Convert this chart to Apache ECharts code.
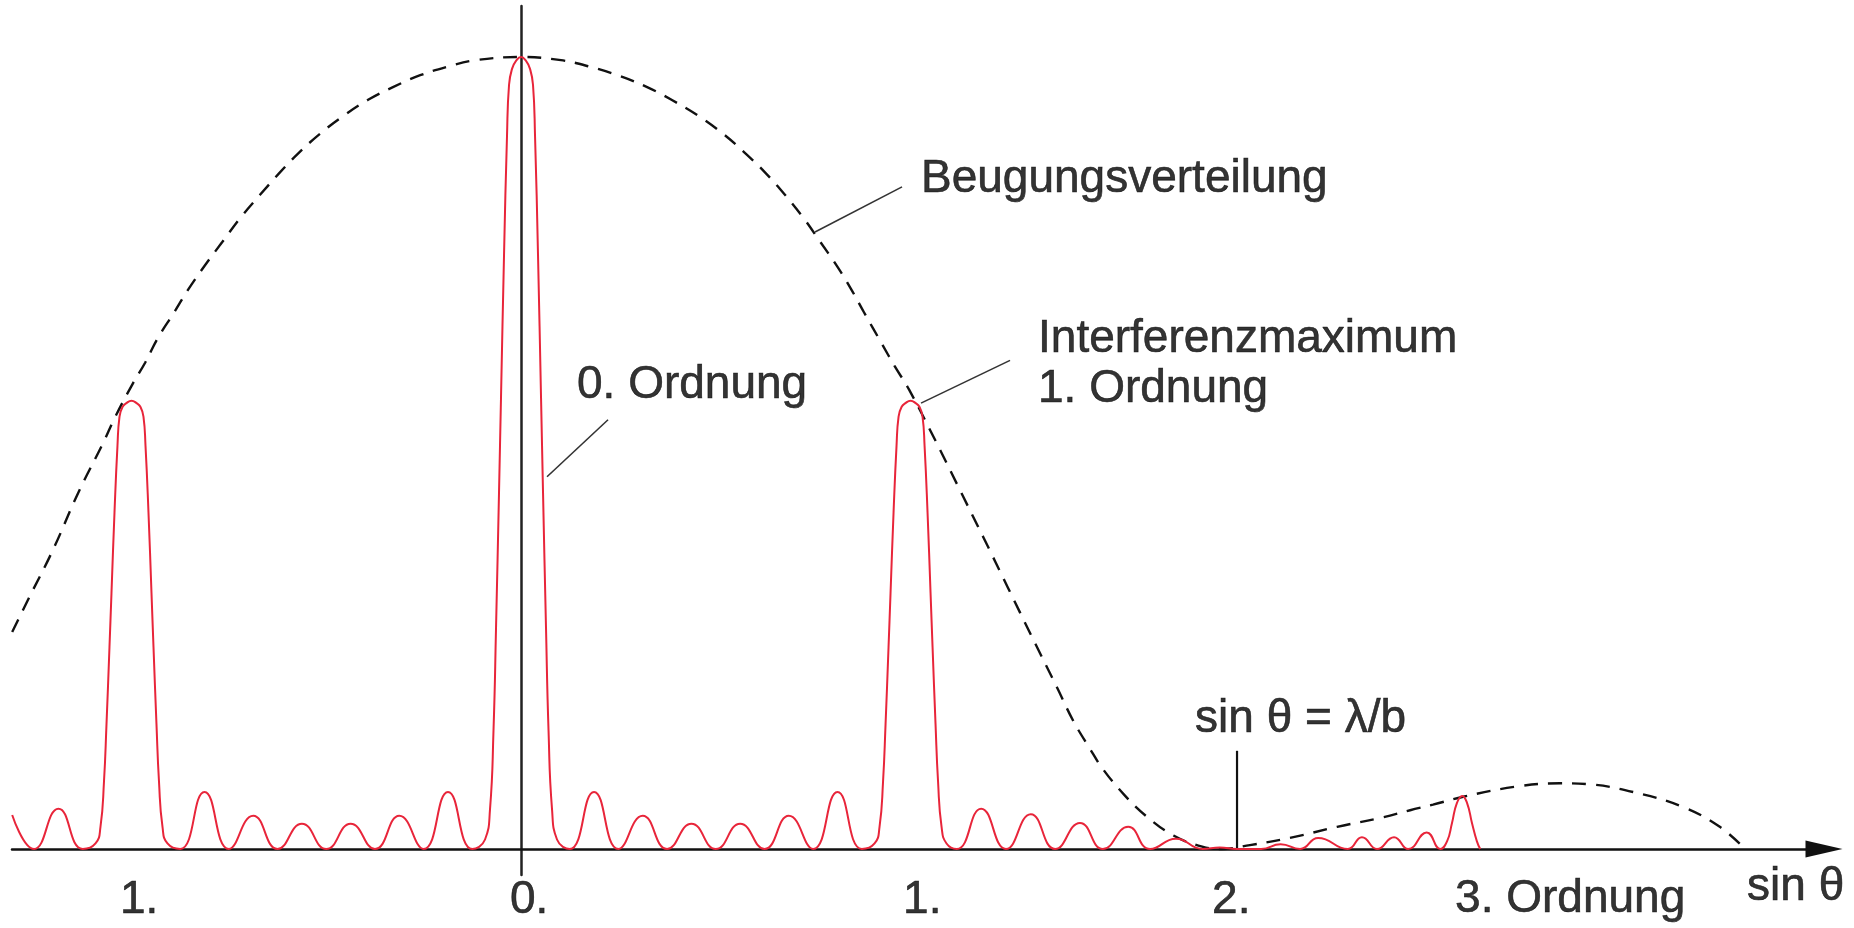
<!DOCTYPE html>
<html>
<head>
<meta charset="utf-8">
<script src="https://cdn.jsdelivr.net/npm/echarts@6/dist/echarts.min.js"></script>
<style>
html,body{margin:0;padding:0;background:#ffffff;}
#chart{width:1854px;height:928px;}
</style>
</head>
<body>
<div id="chart"></div>
<script>
// x: sin(theta) in units of lambda/(8 g)  (8 slits: principal maxima at 0, ±8, ...)
// y: intensity relative to the 0th-order maximum

// grating intensity (red curve)
const gratingCurve = [
  [-10.45,0.043],[-10.0,0],[-9.5,0.051],[-9.0,0],
  [-8.739,0.007],[-8.637,0.028],[-8.565,0.085],[-8.513,0.158],[-8.452,0.255],[-8.411,0.323],[-8.349,0.425],[-8.288,0.509],[-8.246,0.546],[-8.185,0.558],[-8.103,0.563],
  [-8.0,0.566],
  [-7.897,0.563],[-7.815,0.558],[-7.754,0.546],[-7.712,0.509],[-7.651,0.425],[-7.589,0.323],[-7.548,0.255],[-7.487,0.158],[-7.435,0.085],[-7.363,0.028],[-7.261,0.007],
  [-7.0,0],[-6.5,0.072],[-6.0,0],[-5.5,0.042],[-5.0,0],[-4.5,0.032],[-4.0,0],[-3.5,0.032],[-3.0,0],[-2.5,0.042],[-2.0,0],[-1.5,0.072],[-1.0,0],
  [-0.739,0.012],[-0.637,0.05],[-0.565,0.15],[-0.513,0.28],[-0.452,0.45],[-0.411,0.57],[-0.349,0.75],[-0.288,0.90],[-0.246,0.965],[-0.185,0.985],[-0.103,0.995],
  [0,1.0],
  [0.103,0.995],[0.185,0.985],[0.246,0.965],[0.288,0.90],[0.349,0.75],[0.411,0.57],[0.452,0.45],[0.513,0.28],[0.565,0.15],[0.637,0.05],[0.739,0.012],
  [1.0,0],[1.5,0.072],[2.0,0],[2.5,0.042],[3.0,0],[3.5,0.032],[4.0,0],[4.5,0.032],[5.0,0],[5.5,0.042],[6.0,0],[6.5,0.072],[7.0,0],
  [7.261,0.007],[7.363,0.028],[7.435,0.085],[7.487,0.158],[7.548,0.255],[7.589,0.323],[7.651,0.425],[7.712,0.509],[7.754,0.546],[7.815,0.558],[7.897,0.563],
  [8.0,0.566],
  [8.103,0.563],[8.185,0.558],[8.246,0.546],[8.288,0.509],[8.349,0.425],[8.411,0.323],[8.452,0.255],[8.513,0.158],[8.565,0.085],[8.637,0.028],[8.739,0.007],
  [8.95,0],[9.45,0.051],[9.96,0],[10.47,0.044],[10.97,0],[11.48,0.033],[11.95,0],[12.47,0.028],[12.92,0],[13.45,0.013],[14.0,0],[14.35,0.002],[14.7,0],
  [15.2,0],[15.6,0.006],[16.0,0],[16.37,0.014],[16.98,0],[17.27,0.015],[17.58,0],[17.93,0.015],[18.22,0],[18.6,0.021],[18.88,0],
  [19.02,0.010],[19.12,0.033],[19.22,0.058],[19.33,0.067],[19.43,0.058],[19.53,0.033],[19.63,0.010],[19.70,0]
];

// single-slit diffraction envelope (dashed curve)
const envelopeCurve = [
  [-10.45,0.274],[-10.13,0.314],[-9.61,0.378],[-9.10,0.449],[-8.58,0.513],[-8.34,0.545],[-7.97,0.588],[-7.72,0.614],
  [-7.46,0.645],[-7.13,0.677],[-6.84,0.706],[-6.49,0.737],[-6.14,0.766],[-5.75,0.798],[-5.36,0.826],[-4.97,0.853],
  [-4.58,0.878],[-4.13,0.903],[-3.64,0.926],[-3.14,0.946],[-2.63,0.962],[-2.07,0.977],[-1.50,0.988],[-0.94,0.996],
  [0,1.0],
  [0.82,0.996],[1.40,0.988],[2.03,0.976],[2.59,0.962],[3.09,0.946],[3.66,0.925],[4.15,0.903],[4.58,0.880],[5.00,0.855],
  [5.42,0.826],[5.81,0.796],[6.13,0.768],[6.49,0.736],[6.77,0.708],[7.04,0.678],[7.41,0.638],[7.68,0.609],[7.97,0.580],
  [8.5,0.517],[9.0,0.455],[9.5,0.393],[10.0,0.330],[10.5,0.267],[11.0,0.205],[11.34,0.162],[11.67,0.128],[11.95,0.101],
  [12.38,0.069],[12.83,0.042],[13.40,0.017],[13.99,0.003],[14.40,0],
  [14.97,0.005],[15.79,0.014],[16.76,0.028],[17.70,0.040],[18.26,0.049],[18.73,0.056],[19.35,0.066],[20.46,0.079],
  [21.34,0.083],[21.89,0.082],[22.84,0.072],[23.87,0.053],[24.62,0.028],[25.14,0]
];

// order labels below the axis: [x, y, text]
const orderLabels = [
  [-8.236,-0.065,'1.'],
  [-0.226,-0.065,'0.'],
  [7.846,-0.065,'1.'],
  [14.192,-0.065,'2.'],
  [19.183,-0.063,'3. Ordnung']
];
const axisTitle = [[25.18,-0.048,'sin θ']];

// annotations: [x, y, text]
const annotations = [
  [8.215,0.845,'Beugungsverteilung'],
  [1.150,0.585,'0. Ordnung'],
  [10.618,0.644,'Interferenzmaximum'],
  [10.618,0.581,'1. Ordnung'],
  [13.843,0.164,'sin θ = λ/b']
];

// leader lines (data coordinates)
const leaderBeugung = [[6.038,0.779],[7.825,0.836]];
const leaderInterferenz = [[8.215,0.563],[10.043,0.617]];
const leaderNullte = [[0.534,0.470],[1.787,0.542]];
const markerFirstMin = [[14.705,0],[14.705,0.124]];

const FONT = 'Liberation Sans, Arial, Helvetica, sans-serif';

function textSeries(rows){
  return {
    type:'scatter', clip:false, silent:true, symbolSize:0, z:10,
    data: rows.map(r => ({value:[r[0], r[1]], name:r[2]})),
    label:{show:true, position:'inside', align:'left', verticalAlign:'middle',
      formatter: p => p.name, fontFamily:FONT, fontSize:46, color:'#000',
      textBorderColor:'#000', textBorderWidth:0.6}
  };
}
function segSeries(pts, color, width){
  return {type:'line', data:pts, symbol:'none', silent:true, clip:false,
    lineStyle:{color:color, width:width}, z:4};
}

const chart = echarts.init(document.getElementById('chart'), null, {renderer:'canvas'});
chart.setOption({
  animation:false,
  backgroundColor:'#ffffff',
  grid:{left:12, right:30, top:6, bottom:53},
  xAxis:{
    type:'value', min:-10.454, max:26.76,
    axisLine:{show:true, onZero:true, symbol:['none','triangle'], symbolSize:[17,37],
      lineStyle:{color:'#111', width:2.5}},
    axisTick:{show:false}, axisLabel:{show:false}, splitLine:{show:false}
  },
  yAxis:{
    type:'value', min:-0.0328, max:1.0644,
    axisLine:{show:true, onZero:true, lineStyle:{color:'#222', width:2.5}},
    axisTick:{show:false}, axisLabel:{show:false}, splitLine:{show:false}
  },
  series:[
    {type:'line', data:envelopeCurve, symbol:'none', smooth:0.4, silent:true, z:3,
      lineStyle:{color:'#111', width:2.4, type:[14,10]}},
    {type:'line', data:gratingCurve, symbol:'none', smooth:0.5, silent:true, z:5,
      lineStyle:{color:'#e8253a', width:2}},
    segSeries(leaderBeugung,'#333',1.6),
    segSeries(leaderInterferenz,'#333',1.6),
    segSeries(leaderNullte,'#333',1.6),
    segSeries(markerFirstMin,'#111',2.2),
    textSeries(annotations),
    textSeries(orderLabels),
    textSeries(axisTitle)
  ]
});
</script>
</body>
</html>
